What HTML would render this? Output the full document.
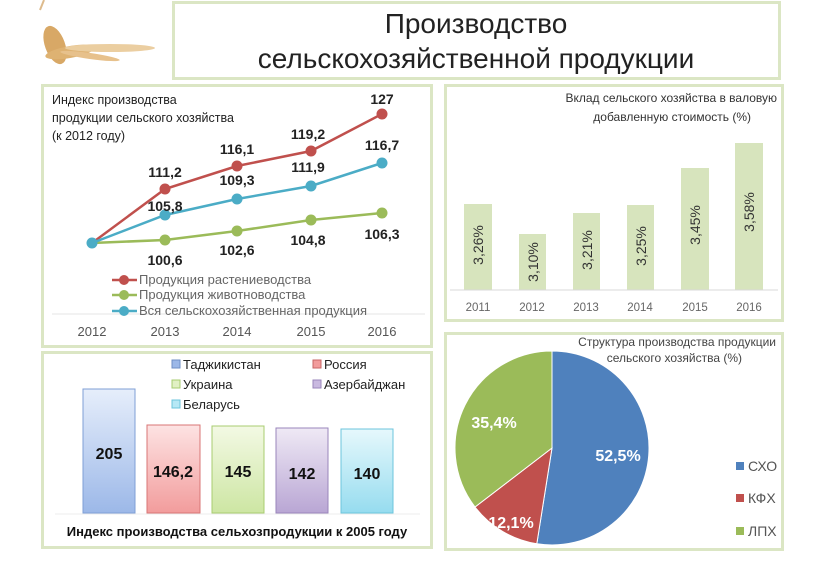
<!DOCTYPE html>
<html><head><meta charset="utf-8"><style>
body{margin:0;width:837px;height:567px;background:#fff;overflow:hidden;font-family:"Liberation Sans","DejaVu Sans",sans-serif;}
</style></head><body>
<svg width="837" height="567" style="position:absolute;left:0;top:0" font-family="Liberation Sans, DejaVu Sans, sans-serif">
<!-- wheat -->
<g opacity="0.85">
<ellipse cx="55" cy="45" rx="10" ry="20" fill="#d29a4c" transform="rotate(-20 55 45)"/>
<ellipse cx="70" cy="52" rx="25" ry="6" fill="#d9a55a" transform="rotate(-10 70 52)"/>
<ellipse cx="110" cy="48" rx="45" ry="4" fill="#e8c690"/>
<ellipse cx="90" cy="56" rx="30" ry="3" fill="#e3b778" transform="rotate(8 90 56)"/>
<line x1="40" y1="10" x2="44" y2="0" stroke="#d8b07a" stroke-width="2"/>
</g>
<!-- panels -->
<rect x="173.5" y="2.5" width="606" height="76" fill="none" stroke="#dbe6c4" stroke-width="3"/>
<rect x="42.5" y="85.5" width="389" height="261" fill="none" stroke="#dbe6c4" stroke-width="3"/>
<rect x="445.5" y="85.5" width="337" height="235" fill="none" stroke="#dbe6c4" stroke-width="3"/>
<rect x="42.5" y="352.5" width="389" height="195" fill="none" stroke="#dbe6c4" stroke-width="3"/>
<rect x="445.5" y="333.5" width="337" height="216" fill="none" stroke="#dbe6c4" stroke-width="3"/>
<text x="476" y="33" font-size="28" text-anchor="middle" fill="#222">Производство</text>
<text x="476" y="68" font-size="28" text-anchor="middle" fill="#222">сельскохозяйственной продукции</text>

<!-- line chart -->
<text font-size="12.5" fill="#222"><tspan x="52" y="104">Индекс производства</tspan><tspan x="52" y="122">продукции сельского хозяйства</tspan><tspan x="52" y="140">(к 2012 году)</tspan></text>
<line x1="52" y1="314" x2="425" y2="314" stroke="#e5e5e5"/>
<g font-size="13" fill="#555" text-anchor="middle"><text x="92" y="336">2012</text><text x="165" y="336">2013</text><text x="237" y="336">2014</text><text x="311" y="336">2015</text><text x="382" y="336">2016</text></g>
<polyline points="92,243 165,189 237,166 311,151 382,114" fill="none" stroke="#c0504d" stroke-width="2.5"/>
<polyline points="92,243 165,240 237,231 311,220 382,213" fill="none" stroke="#9bbb59" stroke-width="2.5"/>
<polyline points="92,243 165,215 237,199 311,186 382,163" fill="none" stroke="#4bacc6" stroke-width="2.5"/>
<g fill="#c0504d"><circle cx="165" cy="189" r="5.5"/><circle cx="237" cy="166" r="5.5"/><circle cx="311" cy="151" r="5.5"/><circle cx="382" cy="114" r="5.5"/></g>
<g fill="#9bbb59"><circle cx="165" cy="240" r="5.5"/><circle cx="237" cy="231" r="5.5"/><circle cx="311" cy="220" r="5.5"/><circle cx="382" cy="213" r="5.5"/></g>
<g fill="#4bacc6"><circle cx="92" cy="243" r="5.5"/><circle cx="165" cy="215" r="5.5"/><circle cx="237" cy="199" r="5.5"/><circle cx="311" cy="186" r="5.5"/><circle cx="382" cy="163" r="5.5"/></g>
<g font-size="14" font-weight="bold" fill="#222" text-anchor="middle">
<text x="382" y="104">127</text><text x="308" y="139">119,2</text><text x="237" y="154">116,1</text><text x="165" y="177">111,2</text>
<text x="382" y="150">116,7</text><text x="308" y="172">111,9</text><text x="237" y="185">109,3</text><text x="165" y="211">105,8</text>
<text x="165" y="265">100,6</text><text x="237" y="255">102,6</text><text x="308" y="245">104,8</text><text x="382" y="239">106,3</text></g>
<g font-size="13" fill="#666">
<line x1="112" y1="280" x2="137" y2="280" stroke="#c0504d" stroke-width="2.5"/><circle cx="124" cy="280" r="5" fill="#c0504d"/><text x="139" y="284">Продукция растениеводства</text>
<line x1="112" y1="295" x2="137" y2="295" stroke="#9bbb59" stroke-width="2.5"/><circle cx="124" cy="295" r="5" fill="#9bbb59"/><text x="139" y="299">Продукция животноводства</text>
<line x1="112" y1="311" x2="137" y2="311" stroke="#4bacc6" stroke-width="2.5"/><circle cx="124" cy="311" r="5" fill="#4bacc6"/><text x="139" y="315">Вся сельскохозяйственная продукция</text>
</g>

<!-- right bar chart -->
<g font-size="12" fill="#333" text-anchor="end"><text x="777" y="102">Вклад сельского хозяйства в валовую</text><text x="751" y="121">добавленную стоимость (%)</text></g>
<g fill="#d7e4bd">
<rect x="464" y="204" width="28" height="86"/><rect x="519" y="234" width="27" height="56"/><rect x="573" y="213" width="27" height="77"/>
<rect x="627" y="205" width="27" height="85"/><rect x="681" y="168" width="28" height="122"/><rect x="735" y="143" width="28" height="147"/></g>
<line x1="450" y1="290" x2="778" y2="290" stroke="#d9d9d9"/>
<g font-size="14" fill="#333" text-anchor="middle">
<text transform="translate(483,245) rotate(-90)">3,26%</text><text transform="translate(538,262) rotate(-90)">3,10%</text>
<text transform="translate(592,250) rotate(-90)">3,21%</text><text transform="translate(646,246) rotate(-90)">3,25%</text>
<text transform="translate(700,225) rotate(-90)">3,45%</text><text transform="translate(754,212) rotate(-90)">3,58%</text></g>
<g font-size="11.5" fill="#666" text-anchor="middle"><text x="478" y="311">2011</text><text x="532" y="311">2012</text><text x="586" y="311">2013</text><text x="640" y="311">2014</text><text x="695" y="311">2015</text><text x="749" y="311">2016</text></g>

<!-- bottom-left bar chart -->
<defs>
<linearGradient id="g1" x1="0" x2="0" y1="0" y2="1"><stop offset="0" stop-color="#e6eefb"/><stop offset="1" stop-color="#9cb8e8"/></linearGradient>
<linearGradient id="g2" x1="0" x2="0" y1="0" y2="1"><stop offset="0" stop-color="#fde3e3"/><stop offset="1" stop-color="#f29c9c"/></linearGradient>
<linearGradient id="g3" x1="0" x2="0" y1="0" y2="1"><stop offset="0" stop-color="#f3f9e4"/><stop offset="1" stop-color="#cde6a3"/></linearGradient>
<linearGradient id="g4" x1="0" x2="0" y1="0" y2="1"><stop offset="0" stop-color="#efe9f5"/><stop offset="1" stop-color="#b9a6d4"/></linearGradient>
<linearGradient id="g5" x1="0" x2="0" y1="0" y2="1"><stop offset="0" stop-color="#e6f8fc"/><stop offset="1" stop-color="#96dcef"/></linearGradient>
</defs>
<rect x="83" y="389" width="52" height="124" fill="url(#g1)" stroke="#7f9fd6"/>
<rect x="147" y="425" width="53" height="88" fill="url(#g2)" stroke="#d87676"/>
<rect x="212" y="426" width="52" height="87" fill="url(#g3)" stroke="#a8cc70"/>
<rect x="276" y="428" width="52" height="85" fill="url(#g4)" stroke="#9a86bb"/>
<rect x="341" y="429" width="52" height="84" fill="url(#g5)" stroke="#6cc5dc"/>
<line x1="55" y1="514" x2="420" y2="514" stroke="#eee"/>
<g font-size="16" font-weight="bold" fill="#111" text-anchor="middle"><text x="109" y="459">205</text><text x="173" y="477">146,2</text><text x="238" y="477">145</text><text x="302" y="479">142</text><text x="367" y="479">140</text></g>
<g font-size="13" fill="#222">
<rect x="172" y="360" width="8" height="8" fill="#9cb8e8" stroke="#6f8fc6"/><text x="183" y="369">Таджикистан</text>
<rect x="313" y="360" width="8" height="8" fill="#f29c9c" stroke="#c86666"/><text x="324" y="369">Россия</text>
<rect x="172" y="380" width="8" height="8" fill="#e1f0c4" stroke="#a8cc70"/><text x="183" y="389">Украина</text>
<rect x="313" y="380" width="8" height="8" fill="#c9b9e0" stroke="#9a86bb"/><text x="324" y="389">Азербайджан</text>
<rect x="172" y="400" width="8" height="8" fill="#b6e8f5" stroke="#6cc5dc"/><text x="183" y="409">Беларусь</text>
</g>
<text x="237" y="536" font-size="13" font-weight="bold" fill="#111" text-anchor="middle">Индекс производства сельхозпродукции к 2005 году</text>

<!-- pie -->
<path d="M552,448 L552,351 A97,97 0 1,1 536.8,543.8 Z" fill="#4f81bd" stroke="#fff" stroke-width="1"/>
<path d="M552,448 L536.8,543.8 A97,97 0 0,1 475,507 Z" fill="#c0504d" stroke="#fff" stroke-width="1"/>
<path d="M552,448 L475,507 A97,97 0 0,1 552,351 Z" fill="#9bbb59" stroke="#fff" stroke-width="1"/>
<g font-size="16" font-weight="bold" fill="#fff" text-anchor="middle"><text x="618" y="461">52,5%</text><text x="511" y="528">12,1%</text><text x="494" y="428">35,4%</text></g>
<g font-size="12" fill="#444" text-anchor="end"><text x="776" y="346">Структура производства продукции</text><text x="742" y="362">сельского хозяйства (%)</text></g>
<g font-size="14" fill="#555">
<rect x="736" y="462" width="8" height="8" fill="#4f81bd"/><text x="748" y="471">СХО</text>
<rect x="736" y="494" width="8" height="8" fill="#c0504d"/><text x="748" y="503">КФХ</text>
<rect x="736" y="527" width="8" height="8" fill="#9bbb59"/><text x="748" y="536">ЛПХ</text>
</g>
</svg>
</body></html>
